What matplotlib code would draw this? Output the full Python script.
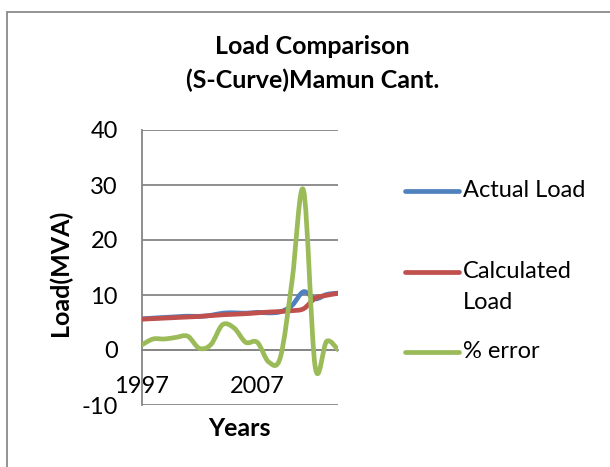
import matplotlib
matplotlib.use("Agg")
import matplotlib.pyplot as plt
from matplotlib.path import Path
from matplotlib.patches import PathPatch, Rectangle
from matplotlib.lines import Line2D

plt.rcParams['font.family'] = ['Lato', 'DejaVu Sans']
plt.rcParams['axes.unicode_minus'] = False

years = list(range(1997, 2015))
actual_load = [5.65, 5.8, 5.92, 6.04, 6.15, 6.12, 6.31, 6.69, 6.76, 6.69, 6.84, 6.75, 6.95, 8.1, 10.6, 9.3, 10.1, 10.35]
calc_load = [5.6, 5.7, 5.8, 5.9, 6.0, 6.1, 6.25, 6.4, 6.5, 6.6, 6.75, 6.9, 7.0, 7.15, 7.5, 9.4, 9.95, 10.3]
pct_error = [0.9, 2.0, 2.0, 2.3, 2.5, 0.3, 1.0, 4.6, 4.0, 1.4, 1.4, -2.2, -1.3, 12.5, 29.0, -3.0, 1.6, 0.0]

series = [
    ("Actual Load", actual_load, "#4F81BD"),
    ("Calculated\nLoad", calc_load, "#C0504D"),
    ("% error", pct_error, "#9BBB59"),
]


def smooth_path(ys):
    # excel style smoothed line: catmull-rom as cubic bezier
    xs = list(range(len(ys)))
    pts = list(zip(xs, ys))
    verts = [pts[0]]
    codes = [Path.MOVETO]
    n = len(pts)
    for i in range(n - 1):
        p0 = pts[i - 1] if i > 0 else pts[i]
        p1 = pts[i]
        p2 = pts[i + 1]
        p3 = pts[i + 2] if i + 2 < n else pts[i + 1]
        c1 = (p1[0] + (p2[0] - p0[0]) / 6, p1[1] + (p2[1] - p0[1]) / 6)
        c2 = (p2[0] - (p3[0] - p1[0]) / 6, p2[1] - (p3[1] - p1[1]) / 6)
        verts += [c1, c2, p2]
        codes += [Path.CURVE4] * 3
    return Path(verts, codes)


W, H = 610, 467
fig = plt.figure(figsize=(6.1, 4.67), dpi=100)
fig.add_artist(Rectangle((7 / W, -0.05), 1.1, 1.05 - 12 / H, transform=fig.transFigure,
                         fill=False, ec="#8a8a8a", lw=1.3))

ax = fig.add_axes([141.5 / W, 62 / H, (338.3 - 141.5) / W, 275 / H])
grey = "#868686"

for name, vals, col in series:
    ax.add_patch(PathPatch(smooth_path(vals), fill=False, ec=col, lw=3.4,
                           capstyle="round", joinstyle="round", zorder=3))

ax.set_xlim(0, len(years) - 1)
ax.set_ylim(-10, 40)
ax.set_yticks([-10, 0, 10, 20, 30, 40])
ax.set_xticks([0, 10])
ax.set_xticklabels([str(years[0]), str(years[10])])
ax.yaxis.grid(True, color=grey, lw=1.3)
ax.set_axisbelow(True)
for s in ["top", "right"]:
    ax.spines[s].set_visible(False)
ax.spines["bottom"].set_position(("data", 0))
ax.spines["bottom"].set_color(grey)
ax.spines["bottom"].set_linewidth(1.3)
ax.spines["left"].set_color(grey)
ax.spines["left"].set_linewidth(1.3)
ax.tick_params(axis="y", length=0, pad=17, labelsize=17)
ax.tick_params(axis="x", length=0, pad=19, labelsize=17)

fig.text(312 / W, 1 - 47 / H, "Load Comparison", ha="center", va="center",
         fontsize=18, fontweight="bold")
fig.text(313 / W, 1 - 80 / H, "(S-Curve)Mamun Cant.", ha="center", va="center",
         fontsize=18, fontweight="bold")
fig.text(60 / W, 1 - 273 / H, "Load(MVA)", rotation=90, ha="center", va="center",
         fontsize=18, fontweight="bold")
fig.text(239 / W, 1 - 429 / H, "Years", ha="center", va="center",
         fontsize=18, fontweight="bold")

# legend drawn by hand, excel spacing
leg_y = [190.7, 271.7, 351.7]
for (name, vals, col), y in zip(series, leg_y):
    fig.add_artist(Line2D([405 / W, 459 / W], [1 - y / H, 1 - y / H], color=col, lw=3.4,
                          solid_capstyle="round", transform=fig.transFigure))
    fig.text(463 / W, 1 - (y - 11) / H, name, ha="left", va="top", fontsize=17,
             linespacing=1.6)

fig.savefig("out.png", dpi=100)
